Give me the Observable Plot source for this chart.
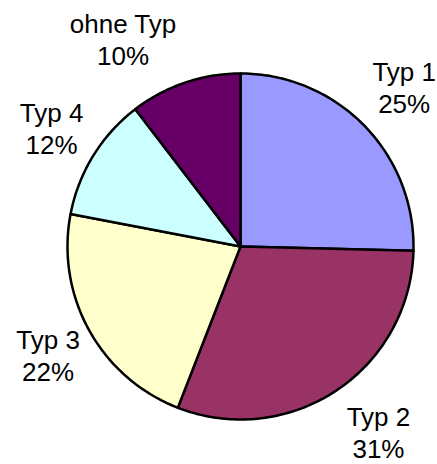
<!DOCTYPE html>
<html>
<head>
<meta charset="utf-8">
<script src="https://cdn.jsdelivr.net/npm/d3@7"></script>
<script src="https://cdn.jsdelivr.net/npm/@observablehq/plot@0.6"></script>
<style>
  html, body { margin: 0; padding: 0; background: #fff; }
  #chart svg { display: block; }
</style>
</head>
<body>
<div id="chart"></div>
<script>
// ---- data ----
const categories = ["Typ 1", "Typ 2", "Typ 3", "Typ 4", "ohne Typ"];
const values = [25.4, 30.5, 22.1, 11.6, 10.4];
const percentLabels = ["25%", "31%", "22%", "12%", "10%"];
const colors = ["#9999FF", "#993366", "#FFFFCC", "#CCFFFF", "#660066"];

// ---- layout ----
const W = 437, H = 464;
const cx = 240, cy = 246, R = 173;   // pixel center & radius
const fontSize = 26, lineGap = 32, fontFamily = "Liberation Sans, Arial, sans-serif";
const labelGap = 14;                 // px from circle to nearest label corner
const labelNudge = [[-2, -4], [2.5, 4], [3, -8], [2, 5], [-4, -5.5]]; // px fine-tuning

const pie = d3.pie().sort(null).value(d => d.value).startAngle(0).endAngle(2 * Math.PI);
const arcs = pie(categories.map((name, i) => ({name, value: values[i], pct: percentLabels[i]})));

// polygon points in unit-circle coordinates (y up)
const pts = [];
for (const a of arcs) {
  pts.push({name: a.data.name, x: 0, y: 0});
  const n = Math.max(2, Math.ceil((a.endAngle - a.startAngle) / (Math.PI / 180)));
  for (let k = 0; k <= n; k++) {
    const t = a.startAngle + (a.endAngle - a.startAngle) * k / n;
    pts.push({name: a.data.name, x: Math.sin(t), y: Math.cos(t)});
  }
}

// label positions: nearest corner of label box at (R + gap) along mid-angle
const ctx = document.createElement("canvas").getContext("2d");
ctx.font = `${fontSize}px ${fontFamily}`;
const inkH = lineGap + fontSize * 0.716;
const labels = arcs.map((a, i) => {
  const mid = (a.startAngle + a.endAngle) / 2;
  const s = Math.sin(mid), c = Math.cos(mid);
  const w = Math.max(ctx.measureText(a.data.name).width, ctx.measureText(a.data.pct).width);
  const d = (R + labelGap) / R;
  const x = s * d + (Math.sign(s) * (w / 2) + labelNudge[i][0]) / R;
  const y = c * d + (Math.sign(c) * (inkH / 2) - labelNudge[i][1]) / R;
  return {name: a.data.name, text: a.data.name + "\n" + a.data.pct, x, y};
});

const chart = Plot.plot({
  width: W,
  height: H,
  margin: 0,
  x: {domain: [-cx / R, (W - cx) / R], range: [0, W], axis: null},
  y: {domain: [-(H - cy) / R, cy / R], range: [H, 0], axis: null},
  color: {domain: categories, range: colors},
  style: {background: "#fff", fontFamily},
  marks: [
    Plot.line(pts, {
      x: "x", y: "y", z: "name", fill: "name",
      stroke: "#000", strokeWidth: 2.5, strokeLinejoin: "round",
      curve: "linear-closed"
    }),
    Plot.text(labels, {
      x: "x", y: "y", text: "text",
      fontSize, lineHeight: lineGap / fontSize,
      fill: "#000", textAnchor: "middle"
    })
  ]
});
document.getElementById("chart").appendChild(chart);
</script>
</body>
</html>
